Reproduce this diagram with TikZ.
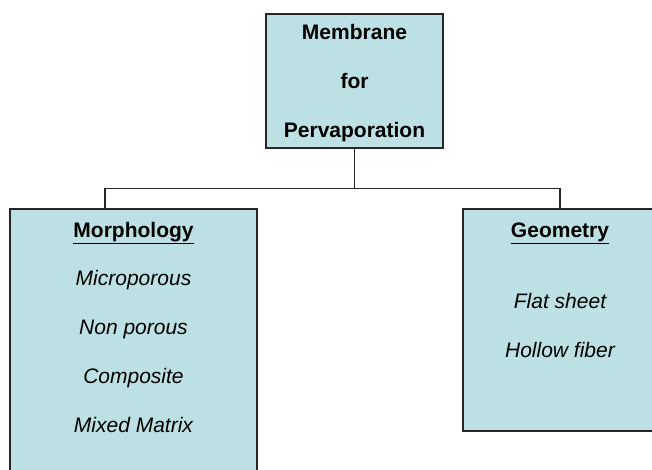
\documentclass[tikz,border=0pt]{standalone}
\usepackage{fontspec}
\setmainfont{Liberation Sans}
\usetikzlibrary{positioning}
\definecolor{boxfill}{RGB}{189,224,228}
\tikzset{
  box/.style={draw=black!85, line width=1.6pt, fill=boxfill, inner sep=0pt},
  head/.style={font=\fontsize{21}{25}\selectfont\bfseries, anchor=base},
  item/.style={font=\fontsize{21}{25}\selectfont\itshape, anchor=base},
  link/.style={line width=1.4pt, draw=black!85},
}

\begin{document}
\begin{tikzpicture}[x=1pt,y=-1pt]
			%%%%% START %%%%%
			\useasboundingbox (0,0) rectangle (652,470);
			
			\node[box, minimum width=177pt, minimum height=134pt] (membrane) at (354.5,81) {};
			\node[box, minimum width=247pt, minimum height=280pt] (morph) at (133.5,349) {};
			\node[box, minimum width=194pt, minimum height=222pt] (geom) at (560,320) {};
			
			\node[head] (mem1) at (354.5,40) {Membrane};
			\node[head] (mem2) at (354.5,89) {for};
			\node[head] (mem3) at (354.5,138) {Pervaporation};
			
			\node[head] (morphhead) at (133.5,237) {\underline{Morphology}};
			\node[item] (micro) at (133.5,285) {Microporous};
			\node[item] (nonpor) at (133.5,334) {Non porous};
			\node[item] (compo) at (133.5,383) {Composite};
			\node[item] (mixed) at (133.5,432) {Mixed Matrix};
			
			\node[head] (geomhead) at (560,237) {\underline{Geometry}};
			\node[item] (flat) at (560,308) {Flat sheet};
			\node[item] (hollow) at (560,357) {Hollow fiber};
			
			\coordinate (morphtop) at (105,209);
			\draw[link] (membrane.south) -- ++(0,40) coordinate (split) -| (morphtop);
			\draw[link] (split) -| (geom.north);
			
			%%%%% END %%%%%
\end{tikzpicture}
\end{document}
